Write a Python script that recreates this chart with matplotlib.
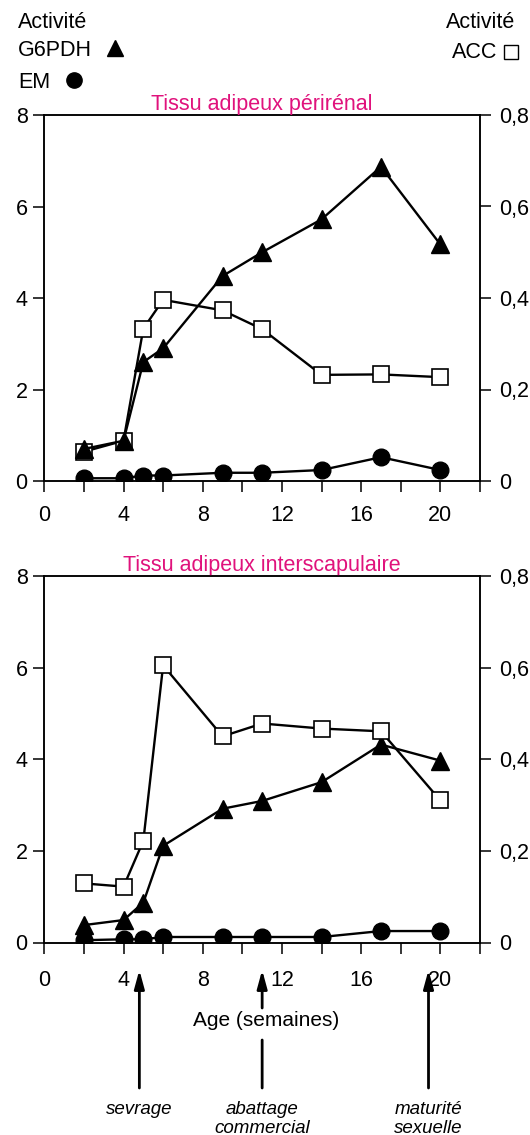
import matplotlib
matplotlib.use("Agg")
import matplotlib.pyplot as plt
from matplotlib.lines import Line2D

plt.rcParams['font.family'] = ['Liberation Sans', 'DejaVu Sans']

# ages (semaines)
age = [2, 4, 5, 6, 9, 11, 14, 17, 20]

# tissu adipeux perirenal
g6pdh_peri = [0.70, 0.88, 2.60, 2.90, 4.48, 5.00, 5.72, 6.87, 5.17]
acc_peri = [0.064, 0.088, 0.333, 0.396, 0.373, 0.332, 0.232, 0.233, 0.227]
em_peri = [0.06, 0.06, 0.12, 0.12, 0.18, 0.18, 0.24, 0.52, 0.24]

# tissu adipeux interscapulaire
g6pdh_inter = [0.38, 0.49, 0.87, 2.11, 2.92, 3.09, 3.50, 4.32, 3.97]
acc_inter = [0.129, 0.122, 0.222, 0.605, 0.450, 0.478, 0.467, 0.461, 0.310]
em_inter = [0.05, 0.07, 0.07, 0.12, 0.12, 0.12, 0.12, 0.25, 0.25]

left_ticks = [0, 2, 4, 6, 8]
right_ticks = [0, 0.2, 0.4, 0.6, 0.8]
right_labels = ['0', '0,2', '0,4', '0,6', '0,8']
x_ticks = [0, 2, 4, 6, 8, 10, 12, 14, 16, 18, 20, 22]
x_labels = ['0', '', '4', '', '8', '', '12', '', '16', '', '20', '']

events = ['sevrage', 'abattage\ncommercial', 'maturité\nsexuelle']
event_ages = [4.8, 11, 19.4]

W, H = 530, 1135
MAGENTA = '#e0127c'


def fx(x):
    return x / W


def fy(y):
    return 1 - y / H


def panel(rect, g6pdh, acc, em, title, squares_on_top, xpad):
    ax = fig.add_axes(rect)
    ax2 = ax.twinx()
    ax.set_xlim(0, 22)
    ax.set_ylim(0, 8)
    ax2.set_ylim(0, 0.8)

    ax2.plot(age, acc, color='black', lw=1.7, marker='s', ms=12,
             mfc='white', mec='black', mew=1.2)
    ax.plot(age, g6pdh, color='black', lw=1.7, marker='^', ms=13,
            mfc='black', mec='black')
    ax.plot(age, em, color='black', lw=1.7, marker='o', ms=12,
            mfc='black', mec='black', zorder=4)

    if not squares_on_top:
        ax.set_zorder(ax2.get_zorder() + 1)
        ax.patch.set_visible(False)

    ax.set_xticks(x_ticks)
    ax.set_xticklabels(x_labels)
    ax.set_yticks(left_ticks)
    ax2.set_yticks(right_ticks)
    ax2.set_yticklabels(right_labels)

    for a in (ax, ax2):
        for s in a.spines.values():
            s.set_linewidth(1.1)
        a.tick_params(length=8, width=1.1, labelsize=15.5, direction='out')
    ax.tick_params(axis='x', pad=xpad)
    ax.tick_params(axis='y', pad=4)
    ax2.tick_params(axis='y', pad=6)
    ax.set_title(title, color=MAGENTA, fontsize=15.5, pad=3)
    return ax


fig = plt.figure(figsize=(W / 100, H / 100), dpi=100)

panel([fx(44.3), fy(481), fx(435.7), 366 / H], g6pdh_peri, acc_peri,
      em_peri, 'Tissu adipeux périrénal', False, 9)
ax_b = panel([fx(44.3), fy(942.5), fx(435.7), 366.5 / H], g6pdh_inter,
             acc_inter, em_inter, 'Tissu adipeux interscapulaire', True, 12)

# legend-like labels in the top corners
fig.text(fx(18), fy(23), 'Activité', fontsize=15.5, va='center', ha='left')
fig.text(fx(18), fy(50), 'G6PDH', fontsize=15.5, va='center', ha='left')
fig.text(fx(18), fy(83), 'EM', fontsize=15.5, va='center', ha='left')
fig.text(fx(515), fy(23), 'Activité', fontsize=15.5, va='center', ha='right')
fig.text(fx(497), fy(53), 'ACC', fontsize=15.5, va='center', ha='right')
fig.add_artist(Line2D([fx(115)], [fy(48)], marker='^', ms=12,
                      color='black', transform=fig.transFigure))
fig.add_artist(Line2D([fx(74)], [fy(80)], marker='o', ms=11,
                      color='black', transform=fig.transFigure))
fig.add_artist(Line2D([fx(511)], [fy(52)], marker='s', ms=10, mfc='white',
                      mec='black', mew=1.0, transform=fig.transFigure))

# age label and event arrows
fig.text(fx(266), fy(1021), 'Age (semaines)', fontsize=15, ha='center',
         va='center')
arrow = dict(arrowstyle='-|>,head_length=1.1,head_width=0.3',
             color='black', lw=2, shrinkA=0, shrinkB=0)
for name, a in zip(events, event_ages):
    if name.startswith('abattage'):
        ax_b.annotate('', xy=(a, fy(970)), xytext=(a, fy(1008)),
                      xycoords=('data', 'figure fraction'),
                      textcoords=('data', 'figure fraction'),
                      arrowprops=arrow, annotation_clip=False)
        ax_b.annotate('', xy=(a, fy(1040)), xytext=(a, fy(1088)),
                      xycoords=('data', 'figure fraction'),
                      textcoords=('data', 'figure fraction'),
                      arrowprops=dict(arrowstyle='-', color='black', lw=2,
                                      shrinkA=0, shrinkB=0),
                      annotation_clip=False)
    else:
        ax_b.annotate('', xy=(a, fy(970)), xytext=(a, fy(1088)),
                      xycoords=('data', 'figure fraction'),
                      textcoords=('data', 'figure fraction'),
                      arrowprops=arrow, annotation_clip=False)
    ax_b.annotate(name, xy=(a, fy(1101)),
                  xycoords=('data', 'figure fraction'),
                  ha='center', va='top', fontsize=13.5, style='italic',
                  linespacing=1.12, annotation_clip=False)

fig.savefig('out.png', dpi=100)
